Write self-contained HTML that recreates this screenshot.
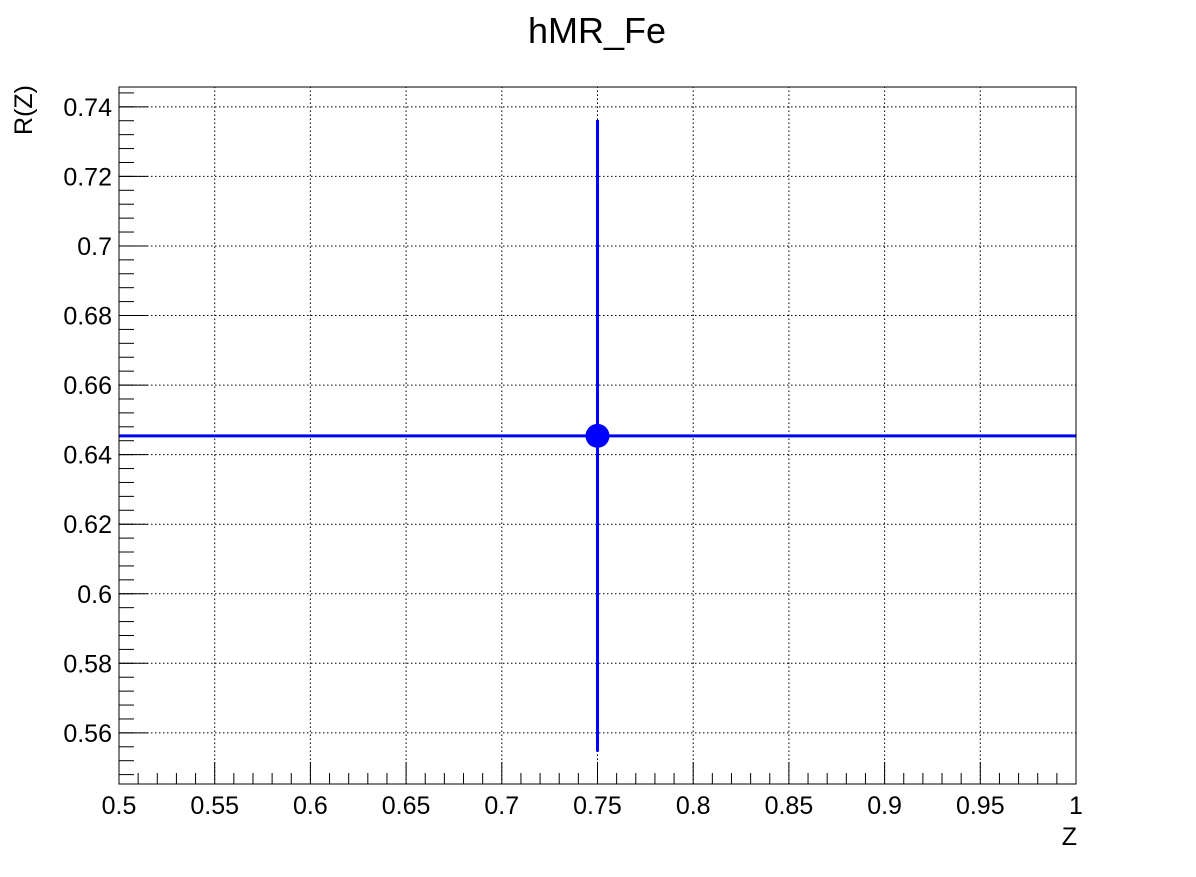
<!DOCTYPE html>
<html><head><meta charset="utf-8"><style>
body{margin:0;background:#fff;}
svg text{font-family:"Liberation Sans",sans-serif;}
</style></head><body>
<svg id="chart" width="1196" height="872" xmlns="http://www.w3.org/2000/svg">
<rect width="1196" height="872" fill="#fff"/>
<text x="597" y="43" font-size="36" text-anchor="middle">hMR_Fe</text>
<g id="grid"></g><g id="axes"></g><g id="marks"></g>
<rect x="119" y="87" width="957" height="697" fill="none" stroke="#000" stroke-width="1"/>
<text x="1077" y="845" font-size="25" text-anchor="end">Z</text>
<text transform="translate(32,85) rotate(-90)" font-size="25" text-anchor="end">R(Z)</text>
</svg>
<script>
const xTicks=[0.5,0.55,0.6,0.65,0.7,0.75,0.8,0.85,0.9,0.95,1];
const xTickLabels=["0.5","0.55","0.6","0.65","0.7","0.75","0.8","0.85","0.9","0.95","1"];
const yTicks=[0.56,0.58,0.6,0.62,0.64,0.66,0.68,0.7,0.72,0.74];
const yTickLabels=["0.56","0.58","0.6","0.62","0.64","0.66","0.68","0.7","0.72","0.74"];
const pointX=[0.75];
const pointY=[0.6454];
const pointXErr=[0.25];
const pointYErr=[0.0908];
const X0=119,X1=1076,Y0=784,Y1=87,xmin=0.5,xmax=1,ymin=0.5453,ymax=0.7457;
const sx=v=>X0+(v-xmin)/(xmax-xmin)*(X1-X0);
const sy=v=>Y0-(v-ymin)/(ymax-ymin)*(Y0-Y1);
const NS="http://www.w3.org/2000/svg";
function mk(tag,at,parent){const e=document.createElementNS(NS,tag);for(const k in at)e.setAttribute(k,at[k]);document.getElementById(parent).appendChild(e);return e;}
xTicks.forEach((t,i)=>{const x=sx(t);
 if(i>0&&i<xTicks.length-1){const g=mk('line',{x1:x,x2:x,y1:Y0,y2:Y1,stroke:'#000','stroke-dasharray':'1.5,2.5','stroke-width':1},'grid');
 
 }
 const tk=mk('line',{x1:x,x2:x,y1:Y0,y2:Y0-22,stroke:'#000'},'axes');
 
 
 const l=mk('text',{x:x,y:814,'font-size':25,'text-anchor':'middle'},'axes');l.textContent=xTickLabels[i];
 
 
 if(i<xTicks.length-1)for(let k=1;k<5;k++){const mx=sx(t+k*0.01);const m=mk('line',{x1:mx,x2:mx,y1:Y0,y2:Y0-11,stroke:'#000'},'axes');
 
 }
});
yTicks.forEach((t,i)=>{const y=sy(t);
 const g=mk('line',{x1:X0,x2:X1,y1:y,y2:y,stroke:'#000','stroke-dasharray':'1.5,2.5','stroke-width':1},'grid');
 
 
 const tk=mk('line',{x1:X0,x2:X0+29,y1:y,y2:y,stroke:'#000'},'axes');
 
 
 const l=mk('text',{x:112,y:y+9,'font-size':25,'text-anchor':'end'},'axes');l.textContent=yTickLabels[i];
 
 
});
for(let v=0.54;v<0.75;v+=0.004){const y=sy(v);if(y<Y1-0.5||y>Y0+0.5)continue;
 const m=mk('line',{x1:X0,x2:X0+15,y1:y,y2:y,stroke:'#000'},'axes');
 
 }
pointX.forEach((px,i)=>{
 const h=mk('line',{x1:sx(Math.max(xmin,px-pointXErr[i])),x2:sx(Math.min(xmax,px+pointXErr[i])),y1:sy(pointY[i]),y2:sy(pointY[i]),stroke:'#0000ff','stroke-width':3},'marks');
 
 
 const v=mk('line',{x1:sx(px),x2:sx(px),y1:sy(pointY[i]-pointYErr[i]),y2:sy(pointY[i]+pointYErr[i]),stroke:'#0000ff','stroke-width':3},'marks');
 
 
 const c=mk('circle',{cx:sx(px),cy:sy(pointY[i]),r:12,fill:'#0000ff'},'marks');
 
 
});
</script>
</body></html>
